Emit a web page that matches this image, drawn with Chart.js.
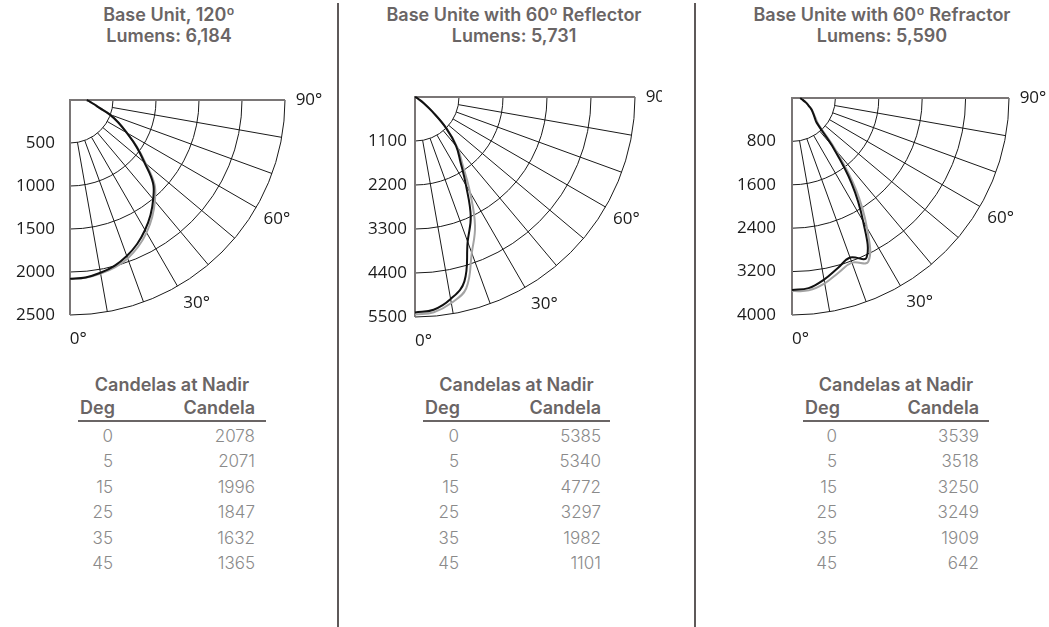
<!DOCTYPE html>
<html>
<head>
<meta charset="utf-8">
<script src="https://cdn.jsdelivr.net/npm/chart.js@4.4.1/dist/chart.umd.min.js"></script>
<style>
body { margin: 0; background: #fff; width: 1049px; height: 627px; position: relative; overflow: hidden; font-family: Inter, "Noto Sans", sans-serif; }
.sep { position: absolute; top: 3px; width: 2px; height: 624px; background: #5e5959; }
.title { position: absolute; top: 4px; width: 340px; text-align: center; font-weight: 600; font-size: 18px; line-height: 21px; color: #6a6565; }
canvas { position: absolute; }
.tbl { position: absolute; top: 376px; color: #6a6565; }
.tbl .head { text-align: center; font-weight: 600; font-size: 18px; line-height: 18px; }
.tbl .hrow { position: relative; height: 26px; border-bottom: 2px solid #6a6565; font-weight: 600; font-size: 18px; }
.tbl .row { position: relative; height: 25.5px; font-weight: 300; font-size: 17px; color: #8a8a8a; top: 1px; }
.tbl span { position: absolute; top: 50%; transform: translateY(-50%); white-space: nowrap; }
</style>
</head>
<body>
<div class="sep" style="left:337px"></div>
<div class="sep" style="left:694px"></div>

<script>
// polar angles of the photometric curves (deg from nadir)
const angles = [0, 5, 10, 15, 20, 25, 30, 35, 40, 45, 50, 55, 60, 65, 70, 75, 80, 85, 90];

// Base unit
const unitBlack = [2078, 2071, 2040, 1996, 1930, 1847, 1745, 1632, 1505, 1365, 1130, 940, 760, 620, 490, 355, 285, 235, 195];
const unitGray  = [2078, 2075, 2050, 2015, 1960, 1880, 1780, 1665, 1535, 1390, 1150, 950, 765, 620, 490, 355, 285, 235, 195];
// 60 reflector
const reflBlack = [5385, 5340, 5130, 4772, 3850, 3297, 2550, 1982, 1600, 1101, 560, 260, 110, 50, 20, 0, 0, 0, 0];
const reflGray  = [5440, 5400, 5230, 4950, 4150, 3550, 2750, 2080, 1650, 1130, 570, 260, 110, 50, 20, 0, 0, 0, 0];
// 60 refractor
const refrBlack = [3539, 3518, 3400, 3250, 3130, 3249, 2620, 1909, 1150, 642, 540, 470, 410, 340, 290, 240, 200, 170, 150];
const refrGray  = [3560, 3560, 3470, 3330, 3230, 3330, 2760, 2050, 1250, 690, 560, 480, 415, 340, 290, 240, 200, 170, 150];

const unitTicks = [500, 1000, 1500, 2000, 2500];
const reflTicks = [1100, 2200, 3300, 4400, 5500];
const refrTicks = [800, 1600, 2400, 3200, 4000];

const spokeAngles = [10, 20, 30, 40, 50, 60, 70, 80];
const angleLabels = ['0°', '30°', '60°', '90°'];
const angleLabelAt = [2, 32, 60, 90];

// candelas at nadir tables
const nadirDeg = [0, 5, 15, 25, 35, 45];
const unitNadir = [2078, 2071, 1996, 1847, 1632, 1365];
const reflNadir = [5385, 5340, 4772, 3297, 1982, 1101];
const refrNadir = [3539, 3518, 3250, 3249, 1909, 642];

const titles = [
    ['Base Unit, 120º', 'Lumens: 6,184'],
    ['Base Unite with 60º Reflector', 'Lumens: 5,731'],
    ['Base Unite with 60º Refractor', 'Lumens: 5,590']
];

const axisFont = { family: '"Open Sans", sans-serif', size: 17 };

// polar -> x/y in candela units (y axis is reversed so 0 deg points down)
function toPoints(values) {
    return values.map((r, i) => {
        const a = angles[i] * Math.PI / 180;
        return { x: r * Math.sin(a), y: r * Math.cos(a) };
    });
}

// draws the quarter polar grid and the angle labels
const polarGrid = {
    id: 'polarGrid',
    beforeDatasetsDraw(chart, args, o) {
        const { ctx, scales: { x, y } } = chart;
        const cx = x.getPixelForValue(0), cy = y.getPixelForValue(0);
        const px = v => x.getPixelForValue(v) - cx;
        const R = px(o.max), r0 = px(o.ticks[0]);
        ctx.save();
        ctx.strokeStyle = '#1a1a1a';
        ctx.lineWidth = 1;
        o.ticks.forEach(t => {
            ctx.beginPath();
            ctx.arc(cx, cy, px(t), 0, Math.PI / 2);
            ctx.stroke();
        });
        spokeAngles.forEach(d => {
            const a = d * Math.PI / 180;
            ctx.beginPath();
            ctx.moveTo(cx + r0 * Math.sin(a), cy + r0 * Math.cos(a));
            ctx.lineTo(cx + R * Math.sin(a), cy + R * Math.cos(a));
            ctx.stroke();
        });
        ctx.strokeStyle = '#7a7676';
        ctx.lineWidth = 2;
        ctx.beginPath();
        ctx.moveTo(cx, cy + R);
        ctx.lineTo(cx, cy);
        ctx.lineTo(cx + R, cy);
        ctx.stroke();
        ctx.restore();
    },
    afterDraw(chart, args, o) {
        const { ctx, scales: { x, y } } = chart;
        const cx = x.getPixelForValue(0), cy = y.getPixelForValue(0);
        const R = x.getPixelForValue(o.max) - cx + 24;
        ctx.save();
        ctx.font = '17px "Open Sans", sans-serif';
        ctx.fillStyle = '#1a1a1a';
        ctx.textAlign = 'center';
        ctx.textBaseline = 'middle';
        angleLabels.forEach((lbl, i) => {
            const a = angleLabelAt[i] * Math.PI / 180;
            ctx.fillText(lbl, cx + R * Math.sin(a), cy + R * Math.cos(a));
        });
        ctx.restore();
    }
};

function makePanel(box, max, ticks, black, gray, pad, tickPad) {
    const canvas = document.createElement('canvas');
    canvas.width = box.w;
    canvas.height = box.h;
    canvas.style.left = box.x + 'px';
    canvas.style.top = box.y + 'px';
    document.body.appendChild(canvas);

    new Chart(canvas, {
        type: 'scatter',
        data: {
            datasets: [
                { data: toPoints(black), borderColor: '#111', borderWidth: 2, showLine: true, pointRadius: 0, tension: 0.4, clip: 4 },
                { data: toPoints(gray), borderColor: '#a3a3a3', borderWidth: 2, showLine: true, pointRadius: 0, tension: 0.4, clip: 4 }
            ]
        },
        options: {
            responsive: false,
            animation: false,
            devicePixelRatio: 1,
            layout: { padding: pad },
            scales: {
                x: { type: 'linear', min: 0, max: max, display: false },
                y: {
                    type: 'linear', min: 0, max: max, reverse: true,
                    afterBuildTicks: s => { s.ticks = ticks.map(v => ({ value: v })); },
                    afterFit: s => { s.width = 60; },
                    grid: { display: false, drawTicks: false },
                    border: { display: false },
                    ticks: { font: axisFont, color: '#1a1a1a', padding: tickPad, callback: v => String(v) }
                }
            },
            plugins: {
                legend: { display: false },
                tooltip: { enabled: false },
                polarGrid: { max: max, ticks: ticks }
            }
        },
        plugins: [polarGrid]
    });
}

function makeTable(left, width, degRight, candRight, values) {
    const t = document.createElement('div');
    t.className = 'tbl';
    t.style.left = left + 'px';
    t.style.width = width + 'px';
    let html = '<div class="head">Candelas at Nadir</div>';
    html += `<div class="hrow"><span style="left:2px">Deg</span><span style="right:${candRight}px">Candela</span></div>`;
    nadirDeg.forEach((d, i) => {
        html += `<div class="row"><span style="right:${width - degRight}px">${d}</span><span style="right:${candRight}px">${values[i]}</span></div>`;
    });
    t.innerHTML = html;
    document.body.appendChild(t);
}

function makeTitle(center, lines) {
    const d = document.createElement('div');
    d.className = 'title';
    d.style.left = (center - 170) + 'px';
    d.innerHTML = lines.join('<br>');
    document.body.appendChild(d);
}

makeTitle(169, titles[0]);
makeTitle(514, titles[1]);
makeTitle(882, titles[2]);

makePanel({ x: 0, y: 60, w: 340, h: 310 }, 2500, unitTicks, unitBlack, unitGray,
    { left: 10, top: 40, right: 55, bottom: 55 }, 15);
makePanel({ x: 340, y: 60, w: 322, h: 310 }, 5500, reflTicks, reflBlack, reflGray,
    { left: 15, top: 37, right: 27, bottom: 53 }, 8);
makePanel({ x: 700, y: 60, w: 349, h: 310 }, 4000, refrTicks, refrBlack, refrGray,
    { left: 32, top: 38, right: 40, bottom: 55 }, 16);

makeTable(78, 188, 35, 11, unitNadir);
makeTable(423, 187, 36, 9, reflNadir);
makeTable(803, 186, 34, 10, refrNadir);
</script>
</body>
</html>
